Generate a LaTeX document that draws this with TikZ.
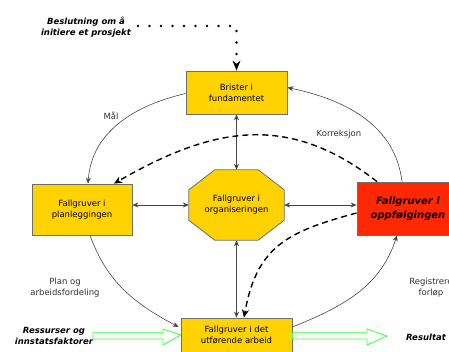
\documentclass[tikz,border=0pt]{standalone}
\usepackage{fontspec}
\setmainfont{DejaVu Sans}
\usetikzlibrary{arrows.meta,calc,backgrounds}
\definecolor{boxyellow}{RGB}{255,210,0}
\definecolor{boxred}{RGB}{255,40,0}
\definecolor{edgegray}{RGB}{110,110,110}
\definecolor{linegray}{RGB}{70,70,70}
\definecolor{labelgray}{RGB}{50,50,50}
\definecolor{arrowgreen}{RGB}{60,255,60}
\begin{document}
\begin{tikzpicture}[x=1pt,y=1pt,
  box/.style={draw=edgegray, line width=0.8pt, fill=boxyellow, align=center, inner sep=0pt, font=\fontsize{8.5}{11}\selectfont},
  lbl/.style={align=center, text=labelgray, font=\fontsize{8.5}{11}\selectfont},
  blbl/.style={align=center, font=\fontsize{8.5}{11}\selectfont\bfseries\itshape},
  conn/.style={draw=linegray, line width=0.6pt},
  tip/.style={-{Stealth[length=6pt,width=5pt]}},
  dtip/.style={{Stealth[length=6pt,width=5pt]}-{Stealth[length=6pt,width=5pt]}},
  corr/.style={draw=black, line width=1.4pt, dash pattern=on 6pt off 4pt, -{Stealth[length=8pt,width=7pt]}},
  dots/.style={draw=black, line width=2.6pt, line cap=round, dash pattern=on 0pt off 11.5pt, -{Stealth[length=10pt,width=8pt,line width=0pt]}},
  garrow/.style={draw=arrowgreen, line width=0.8pt, fill=white}
]
\useasboundingbox (0,0) rectangle (449,351);
\clip (0,0) rectangle (449,351);

% boxes
\node[box, minimum width=101, minimum height=43] (top) at (236.5,258.5) {Brister i\\fundamentet};
\node[box, minimum width=100, minimum height=51] (plan) at (82,141.5) {Fallgruver i\\planleggingen};
\node[align=center, inner sep=0pt, minimum width=95, minimum height=70, font=\fontsize{8.5}{11}\selectfont] (org) at (236.5,146) {Fallgruver i\\organiseringen};
\node[box, fill=boxred, minimum width=102, minimum height=53, font=\fontsize{10}{14}\selectfont\bfseries\itshape] (oppf) at (408,142.5) {Fallgruver i\\oppfølgingen};
\node[box, minimum width=111, minimum height=34] (utf) at (236.5,16) {Fallgruver i det\\utførende arbeid};

\begin{scope}[on background layer]
  \draw[draw=edgegray, line width=0.8pt, fill=boxyellow]
    ($(org.north west)+(26,0)$) -- ($(org.north east)+(-26,0)$) -- ($(org.north east)+(0,-20)$)
    -- ($(org.south east)+(0,20)$) -- ($(org.south east)+(-26,0)$) -- ($(org.south west)+(26,0)$)
    -- ($(org.south west)+(0,20)$) -- ($(org.north west)+(0,-20)$) -- cycle;
\end{scope}

% labels
\node[blbl] (besl) at (86,323.5) {Beslutning om å\\initiere et prosjekt};
\node[blbl] (ress) at (54,15) {Ressurser og\\innstatsfaktorer};
\node[blbl] (res) at (426,14) {Resultat};
\node[lbl] (maal) at (111,235) {Mål};
\node[lbl] (korr) at (339,217) {Korreksjon};
\node[lbl] (plog) at (65,63) {Plan og\\arbeidsfordeling};
\node[lbl] (reg) at (431,63) {Registrere\\forløp};

% dotted start
\coordinate (dstart) at (138,325);
\draw[dots] (dstart) -- (dstart -| top.north) -- (top.north);

% straight double arrows
\draw[conn, dtip] (top.south) -- (org.north);
\draw[conn, dtip] (org.south) -- (utf.north);
\draw[conn, dtip] (plan.east |- org.west) -- (org.west);
\draw[conn, dtip] (org.east) -- (oppf.west |- org.east);

% outer cycle
\draw[conn, tip] ($(top.west)+(0,-1)$) to[out=193,in=86] ($(plan.north)+(6,0)$);
\draw[conn, tip] ($(plan.south)+(8,0)$) to[out=-70,in=152] ($(utf.west)+(-2,8)$);
\draw[conn, tip] ($(utf.east)+(0,8)$) to[out=22,in=-108] ($(oppf.south)+(-11,0)$);
\draw[conn, tip] ($(oppf.north)+(-6,0)$) to[out=97,in=-12] ($(top.east)+(0,5)$);

% corrections
\draw[corr] ($(oppf.north)+(-31,0)$) to[out=142,in=30,looseness=1.1] ($(plan.north)+(32,0)$);
\draw[corr] ($(oppf.west)+(0,-4.5)$) to[out=195,in=80,looseness=1.2] ($(utf.north)+(7.5,0)$);

% green arrows
\draw[garrow] (93,18.3) -- (163,18.3) -- (163,22) -- (utf.west) -- (163,6) -- (163,12) -- (93,12) -- cycle;
\draw[garrow] (utf.east |- 0,18.3) -- (367,18.3) -- (367,22) -- (387,15) -- (367,6) -- (367,12) -- (utf.east |- 0,12) -- cycle;
\end{tikzpicture}
\end{document}
